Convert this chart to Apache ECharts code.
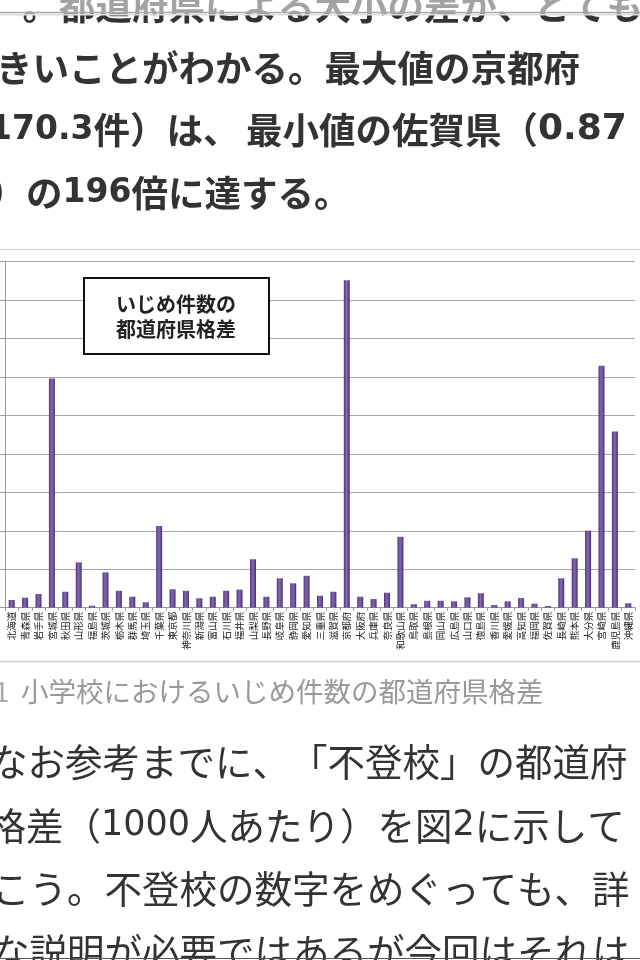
<!DOCTYPE html>
<html>
<head>
<meta charset="utf-8">
<style>
  html, body { margin: 0; padding: 0; background: #fff; }
  #chart { width: 640px; height: 960px; }
</style>
<script src="https://cdn.jsdelivr.net/npm/echarts@6/dist/echarts.min.js"></script>
</head>
<body>
<div id="chart"></div>
<script>
// ---- data ----
const prefectures = ['北海道','青森県','岩手県','宮城県','秋田県','山形県','福島県','茨城県','栃木県','群馬県','埼玉県','千葉県','東京都','神奈川県','新潟県','富山県','石川県','福井県','山梨県','長野県','岐阜県','静岡県','愛知県','三重県','滋賀県','京都府','大阪府','兵庫県','奈良県','和歌山県','鳥取県','島根県','岡山県','広島県','山口県','徳島県','香川県','愛媛県','高知県','福岡県','佐賀県','長崎県','熊本県','大分県','宮崎県','鹿児島県','沖縄県'];
const bullyingCases = [4.0,5.2,7.1,119.3,8.3,23.6,1.0,18.4,8.8,5.7,2.8,42.5,9.6,8.8,4.9,5.7,8.8,9.4,25.2,5.7,15.3,12.7,16.6,6.2,8.3,170.3,5.7,4.5,7.8,36.9,1.8,3.6,3.6,3.3,5.4,7.5,1.4,3.3,5.0,2.1,0.87,15.3,25.7,40.1,125.9,91.6,2.3];
const yTicks = [0,20,40,60,80,100,120,140,160,180];
const chartTitleLines = ['いじめ件数の', '都道府県格差'];
const topParagraph = [['）。都道府県による大小の差が、とても'], ['きいことがわかる。最大値の京都府'], ['（170.3件）は、', '最小値の佐賀県（0.87'], ['件）の196倍に達する。']];
const captionNum = '1';
const captionText = '小学校におけるいじめ件数の都道府県格差';
const bottomParagraph = ['なお参考までに、「不登校」の都道府', '県格差（1000人あたり）を図2に示して', 'おこう。不登校の数字をめぐっても、詳', '細な説明が必要ではあるが今回はそれは'];

const JP = '"Noto Sans CJK JP", "Noto Sans", sans-serif';
const DIG = '"DejaVu Sans", "Noto Sans CJK JP", sans-serif';
const chart = echarts.init(document.getElementById('chart'), null, {renderer: 'canvas'});

function txt(text, x, y, size, weight, color, align, family) {
  return { type: 'text', silent: true, style: { text: text, x: x, y: y, fontSize: size, fontWeight: weight, fontFamily: family || JP, fill: color, align: align || 'left', verticalAlign: 'middle' } };
}

const graphics = [];
const mctx = document.createElement('canvas').getContext('2d');
// lay out one line character by character (no punctuation trimming)
function placeLine(text, x, y, size, weight, color, digitSize) {
  let cx = x;
  for (const ch of text) {
    const isDigit = /[0-9.]/.test(ch);
    const fam = isDigit ? DIG : JP;
    const sz = isDigit ? digitSize : size;
    mctx.font = weight + ' ' + sz + 'px ' + fam;
    const w = mctx.measureText(ch).width;
    graphics.push(txt(ch, cx, y, sz, weight, color, 'left', fam));
    cx += w;
  }
}

// top paragraph (bold); each line may have segments with their own start x
const topX = [[-14], [-4], [-47.5, 246], [-47]];
const topY = [6, 68, 130, 193];
topParagraph.forEach((segs, i) => segs.forEach((t, j) => placeLine(t, topX[i][j], topY[i], 36.5, 'bold', '#333', j === 1 ? 36 : 33)));
// header overlay at top
graphics.push({ type: 'rect', silent: true, z: 20, shape: { x: 0, y: 0, width: 640, height: 12 }, style: { fill: 'rgba(255,255,255,0.55)' } });
graphics.push({ type: 'line', silent: true, z: 20, shape: { x1: 0, y1: 12.5, x2: 640, y2: 12.5 }, style: { stroke: '#aaa', lineWidth: 1.5 } });
graphics.push({ type: 'line', silent: true, z: 20, shape: { x1: 0, y1: 14.5, x2: 640, y2: 14.5 }, style: { stroke: '#ddd', lineWidth: 2 } });
// chart image borders
graphics.push({ type: 'line', silent: true, shape: { x1: 0, y1: 249.5, x2: 640, y2: 249.5 }, style: { stroke: '#ccc', lineWidth: 1 } });
graphics.push({ type: 'line', silent: true, shape: { x1: 0, y1: 661.5, x2: 640, y2: 661.5 }, style: { stroke: '#ccc', lineWidth: 1.5 } });
// title box
graphics.push({ type: 'rect', silent: true, z: 10, shape: { x: 84, y: 278, width: 185, height: 76 }, style: { fill: '#fff', stroke: '#111', lineWidth: 2 } });
graphics.push(Object.assign(txt(chartTitleLines[0], 176, 304, 20, 'bold', '#222', 'center'), { z: 11 }));
graphics.push(Object.assign(txt(chartTitleLines[1], 176, 329, 20, 'bold', '#222', 'center'), { z: 11 }));
// caption
graphics.push(txt(captionNum, -6, 692, 27.5, 'normal', '#aaa'));
graphics.push(txt(captionText, 21, 692, 27.5, 'normal', '#999'));
// bottom paragraph
const botX = [-10, -49, -45.5, -45.5];
const botY = [762, 826, 889, 952];
bottomParagraph.forEach((t, i) => placeLine(t, botX[i], botY[i], 37.5, 'normal', '#333', 35));
graphics.push({ type: 'line', silent: true, z: 20, shape: { x1: 0, y1: 958.5, x2: 640, y2: 958.5 }, style: { stroke: '#555', lineWidth: 1 } });

chart.setOption({
  animation: false,
  backgroundColor: '#fff',
  grid: { left: 5, right: 5, top: 261.7, height: 346 },
  xAxis: {
    type: 'category',
    data: prefectures,
    boundaryGap: true,
    axisLine: { show: true, lineStyle: { color: '#999', width: 1 } },
    axisTick: { show: true, length: 3, lineStyle: { color: '#999' } },
    axisLabel: { rotate: 90, fontSize: 9.5, color: '#222', margin: 4, interval: 0, fontFamily: JP }
  },
  yAxis: {
    type: 'value',
    min: yTicks[0],
    max: yTicks[yTicks.length - 1],
    interval: yTicks[1] - yTicks[0],
    axisLine: { show: true, lineStyle: { color: '#999' } },
    axisTick: { show: true, length: 5, lineStyle: { color: '#999' } },
    axisLabel: { show: false },
    splitLine: { show: true, lineStyle: { color: '#a8a8a8', width: 1.2 } }
  },
  series: [{
    type: 'bar',
    data: bullyingCases,
    barWidth: 6,
    itemStyle: {
      color: new echarts.graphic.LinearGradient(0, 0, 1, 0, [
        { offset: 0, color: '#4e3579' },
        { offset: 0.45, color: '#8468b4' },
        { offset: 1, color: '#4a3274' }
      ])
    }
  }],
  graphic: graphics
});
</script>
</body>
</html>
